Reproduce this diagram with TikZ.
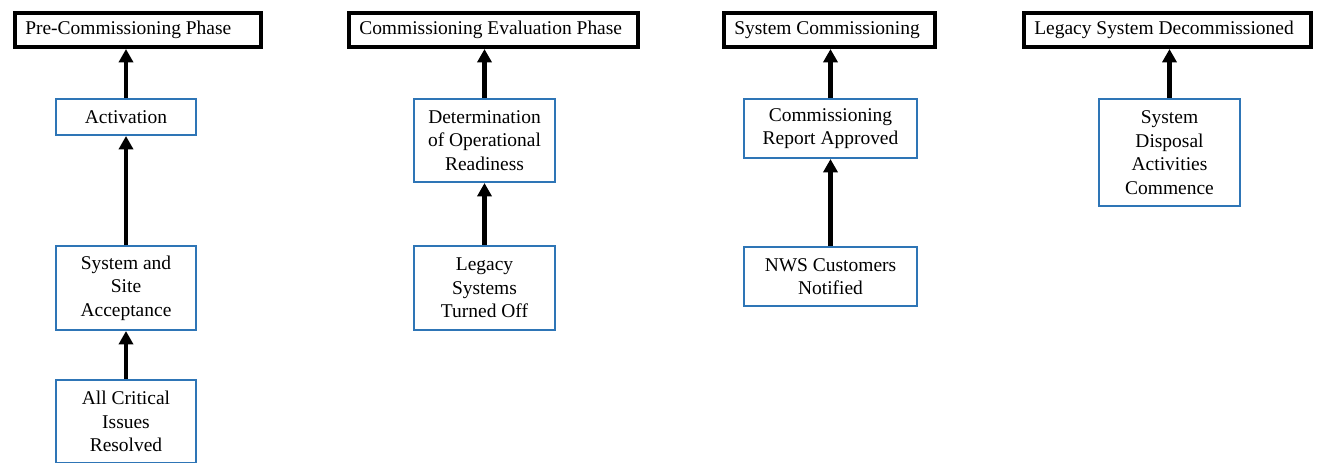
\documentclass[tikz,border=0pt]{standalone}
\usepackage{fontspec}
\setmainfont{Liberation Serif}
\usetikzlibrary{arrows.meta}
\definecolor{boxblue}{RGB}{46,117,182}
\begin{document}
\begin{tikzpicture}[x=0.75pt,y=-0.75pt,
  every node/.style={font=\fontsize{14.6pt}{17.6pt}\selectfont},
  header/.style={draw=black,line width=3pt,fill=white,anchor=north west,inner sep=0pt,minimum height=25.5pt},
  htext/.style={anchor=west,inner sep=0pt},
  stepbox/.style={draw=boxblue,line width=1.5pt,fill=white,anchor=north west,inner sep=0pt,align=center},
  arr/.style={line width=3.4pt,-{Triangle[width=10.5pt,length=10pt]}}]
\useasboundingbox (0,0) rectangle (1319,462);
% headers
\node[header,minimum width=184.5pt] (h1) at (13,11) {};
\node[htext] (t1) at ([xshift=9pt]h1.west) {Pre-Commissioning Phase};
\node[header,minimum width=216.75pt] (h2) at (347,11) {};
\node[htext] (t2) at ([xshift=9pt]h2.west) {Commissioning Evaluation Phase};
\node[header,minimum width=158.25pt] (h3) at (722,11) {};
\node[htext] (t3) at ([xshift=9pt]h3.west) {System Commissioning};
\node[header,minimum width=215.25pt] (h4) at (1022,11) {};
\node[htext] (t4) at ([xshift=9pt]h4.west) {Legacy System Decommissioned};
% column 1
\node[stepbox,minimum width=105pt,minimum height=27pt] (act) at (55,98) {Activation};
\node[stepbox,minimum width=105pt,minimum height=63pt] (ssa) at (55,245) {System and\\Site\\Acceptance};
\node[stepbox,minimum width=105pt,minimum height=62.25pt] (aci) at (55,379) {All Critical\\Issues\\Resolved};
% column 2
\node[stepbox,minimum width=105.75pt,minimum height=62.25pt] (det) at (413,98) {Determination\\of Operational\\Readiness};
\node[stepbox,minimum width=105.75pt,minimum height=63pt] (lst) at (413,245) {Legacy\\Systems\\Turned Off};
% column 3
\node[stepbox,minimum width=129.75pt,minimum height=44.25pt] (cra) at (743,98) {Commissioning\\Report Approved};
\node[stepbox,minimum width=129.75pt,minimum height=44.25pt] (nws) at (743,246) {NWS Customers\\Notified};
% column 4
\node[stepbox,minimum width=105.75pt,minimum height=80.25pt] (sda) at (1098,98) {System\\Disposal\\Activities\\Commence};
% arrows
\draw[arr] (act.north) -- (act.north |- h1.south);
\draw[arr] (ssa.north) -- (act.south);
\draw[arr] (aci.north) -- (ssa.south);
\draw[arr] (det.north) -- (det.north |- h2.south);
\draw[arr] (lst.north) -- (det.south);
\draw[arr] (cra.north) -- (cra.north |- h3.south);
\draw[arr] (nws.north) -- (cra.south);
\draw[arr] (sda.north) -- (sda.north |- h4.south);
\end{tikzpicture}
\end{document}
